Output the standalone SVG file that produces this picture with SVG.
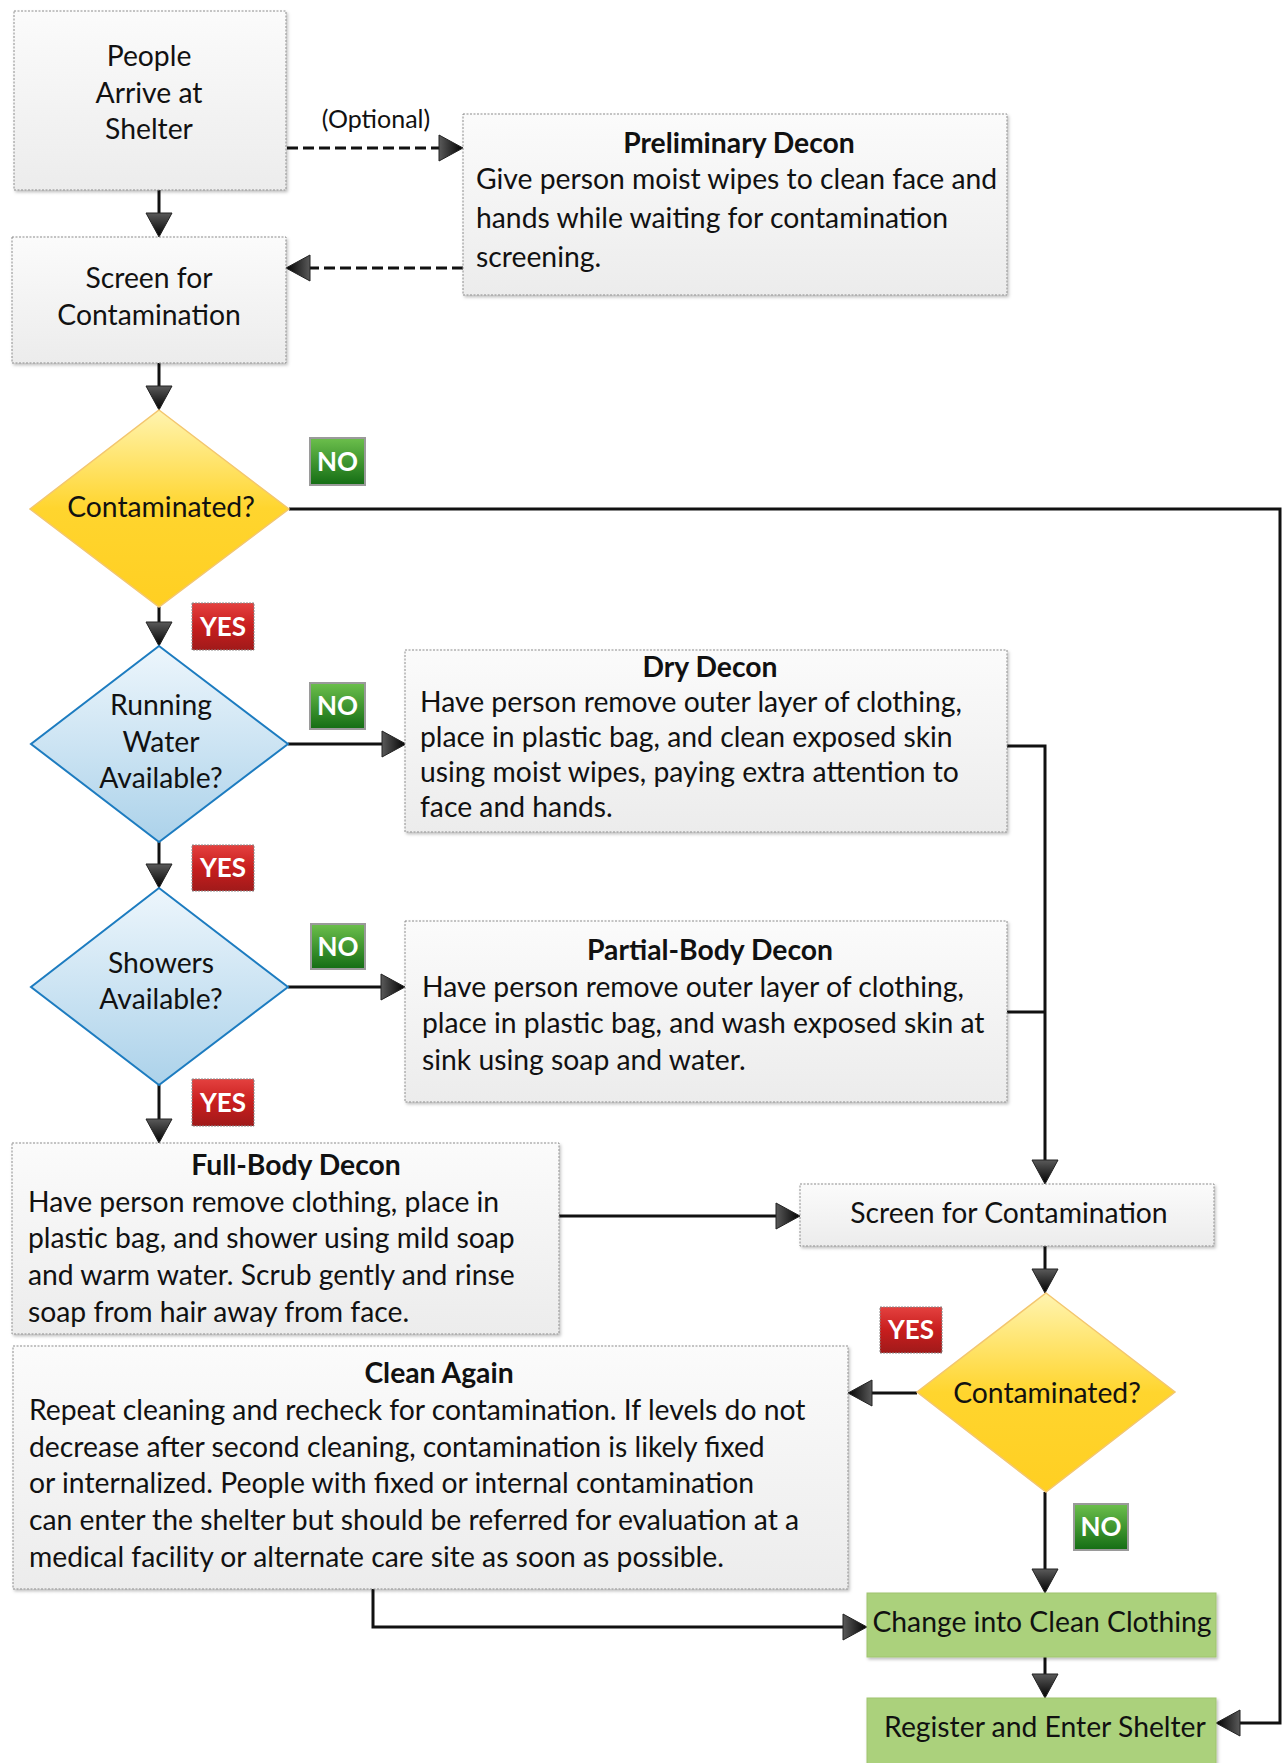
<svg xmlns="http://www.w3.org/2000/svg" width="1283" height="1763" viewBox="0 0 1283 1763">
<defs>
  <linearGradient id="boxGrad" x1="0" y1="0" x2="0" y2="1">
    <stop offset="0" stop-color="#fbfbfb"/>
    <stop offset="1" stop-color="#ececec"/>
  </linearGradient>
  <linearGradient id="yellowGrad" x1="0" y1="0" x2="0" y2="1">
    <stop offset="0" stop-color="#fff4b0"/>
    <stop offset="0.5" stop-color="#ffd52e"/>
    <stop offset="1" stop-color="#ffcf22"/>
  </linearGradient>
  <linearGradient id="blueGrad" x1="0" y1="0" x2="0" y2="1">
    <stop offset="0" stop-color="#edf6fc"/>
    <stop offset="1" stop-color="#acd2ea"/>
  </linearGradient>
  <linearGradient id="noGrad" x1="0" y1="0" x2="0" y2="1">
    <stop offset="0" stop-color="#6cbf4c"/>
    <stop offset="1" stop-color="#146d14"/>
  </linearGradient>
  <linearGradient id="yesGrad" x1="0" y1="0" x2="0" y2="1">
    <stop offset="0" stop-color="#e4413f"/>
    <stop offset="0.5" stop-color="#c81e1e"/>
    <stop offset="1" stop-color="#a01a1a"/>
  </linearGradient>
  <linearGradient id="arrowGrad" x1="0" y1="0" x2="1" y2="0">
    <stop offset="0" stop-color="#5a5a5a"/>
    <stop offset="1" stop-color="#000000"/>
  </linearGradient>
  <filter id="shadow" x="-5%" y="-5%" width="110%" height="115%">
    <feDropShadow dx="1.5" dy="2" stdDeviation="1.5" flood-color="#000" flood-opacity="0.25"/>
  </filter>
  <marker id="arrow" markerUnits="userSpaceOnUse" markerWidth="28" markerHeight="30" refX="2" refY="13" orient="auto" viewBox="-1 -1 28 30">
    <path d="M0,0 L24,13 L0,26 Z" fill="url(#arrowGrad)" stroke="#222" stroke-width="1"/>
  </marker>
</defs>
<style>
  .box { fill: url(#boxGrad); stroke: #8c8c8c; stroke-width: 1; stroke-dasharray: 2 1.5; filter: url(#shadow); }
  .green { fill: #abd17c; stroke: #9fc46f; stroke-width: 1; filter: url(#shadow); }
  .yellow { fill: url(#yellowGrad); stroke: #f3c66f; stroke-width: 1.5; }
  .blue { fill: url(#blueGrad); stroke: #1d7cc0; stroke-width: 2; }
  .no { fill: url(#noGrad); stroke: #9a9a9a; stroke-width: 2; }
  .yes { fill: url(#yesGrad); stroke: #8a8a8a; stroke-width: 1; stroke-dasharray: 2 1; }
  text { font-family: Lato, "Liberation Sans", sans-serif; fill: #111; }
  .t { font-size: 28.3px; }
  .c { text-anchor: middle; }
  .b { font-weight: bold; }
  .lbl { font-size: 26px; font-weight: bold; fill: #fff; text-anchor: middle; }
  .conn { stroke: #111; stroke-width: 3; fill: none; }
  .dash { stroke-dasharray: 11 5; }
</style>

<g id="connectors">
  <path class="conn" d="M159,190 V215" marker-end="url(#arrow)"/>
  <path class="conn" d="M159,363 V388" marker-end="url(#arrow)"/>
  <path class="conn" d="M159,607 V624" marker-end="url(#arrow)"/>
  <path class="conn" d="M159,842 V866" marker-end="url(#arrow)"/>
  <path class="conn" d="M159,1085 V1121" marker-end="url(#arrow)"/>
  <path class="conn dash" d="M287,148 H441" marker-end="url(#arrow)"/>
  <path class="conn dash" d="M463,268 H308" marker-end="url(#arrow)"/>
  <path class="conn" d="M289,509 H1280 V1723 H1238" marker-end="url(#arrow)"/>
  <path class="conn" d="M288,744 H384" marker-end="url(#arrow)"/>
  <path class="conn" d="M288,987 H383" marker-end="url(#arrow)"/>
  <path class="conn" d="M1007,746 H1045 V1162" marker-end="url(#arrow)"/>
  <path class="conn" d="M1007,1012 H1045"/>
  <path class="conn" d="M559,1216 H778" marker-end="url(#arrow)"/>
  <path class="conn" d="M1045,1246 V1271" marker-end="url(#arrow)"/>
  <path class="conn" d="M917,1393 H870" marker-end="url(#arrow)"/>
  <path class="conn" d="M1045,1492 V1571" marker-end="url(#arrow)"/>
  <path class="conn" d="M373,1589 V1627 H845" marker-end="url(#arrow)"/>
  <path class="conn" d="M1045,1657 V1676" marker-end="url(#arrow)"/>
  <text x="376" y="128" class="t c" style="font-size:25px">(Optional)</text>
</g>

<g id="people-arrive">
  <rect class="box" x="14" y="11" width="272" height="179"/>
  <text class="t c" x="149" y="66">People</text>
  <text class="t c" x="149" y="103">Arrive at</text>
  <text class="t c" x="149" y="139">Shelter</text>
</g>

<g id="screen1">
  <rect class="box" x="12" y="237" width="274" height="126"/>
  <text class="t c" x="149" y="288">Screen for</text>
  <text class="t c" x="149" y="325">Contamination</text>
</g>

<g id="preliminary-decon">
  <rect class="box" x="463" y="114" width="544" height="181"/>
  <text class="t c b" x="739" y="153">Preliminary Decon</text>
  <text class="t" x="476" y="189">Give person moist wipes to clean face and</text>
  <text class="t" x="476" y="228">hands while waiting for contamination</text>
  <text class="t" x="476" y="267">screening.</text>
</g>

<g id="contaminated1">
  <polygon class="yellow" points="159,410 289,509 159,607 30,509"/>
  <text class="t c" x="161" y="517">Contaminated?</text>
</g>

<g id="running-water">
  <polygon class="blue" points="159,646 288,744 159,842 31,744"/>
  <text class="t c" x="161" y="715">Running</text>
  <text class="t c" x="161" y="752">Water</text>
  <text class="t c" x="161" y="788">Available?</text>
</g>

<g id="dry-decon">
  <rect class="box" x="405" y="650" width="602" height="182"/>
  <text class="t c b" x="710" y="677">Dry Decon</text>
  <text class="t" x="420" y="712">Have person remove outer layer of clothing,</text>
  <text class="t" x="420" y="747">place in plastic bag, and clean exposed skin</text>
  <text class="t" x="420" y="782">using moist wipes, paying extra attention to</text>
  <text class="t" x="420" y="817">face and hands.</text>
</g>

<g id="showers">
  <polygon class="blue" points="159,888 288,987 159,1085 31,987"/>
  <text class="t c" x="161" y="973">Showers</text>
  <text class="t c" x="161" y="1009">Available?</text>
</g>

<g id="partial-body-decon">
  <rect class="box" x="405" y="921" width="602" height="181"/>
  <text class="t c b" x="710" y="960">Partial-Body Decon</text>
  <text class="t" x="422" y="997">Have person remove outer layer of clothing,</text>
  <text class="t" x="422" y="1033">place in plastic bag, and wash exposed skin at</text>
  <text class="t" x="422" y="1070">sink using soap and water.</text>
</g>

<g id="full-body-decon">
  <rect class="box" x="12" y="1143" width="547" height="191"/>
  <text class="t c b" x="296" y="1175">Full-Body Decon</text>
  <text class="t" x="28" y="1212">Have person remove clothing, place in</text>
  <text class="t" x="28" y="1248">plastic bag, and shower using mild soap</text>
  <text class="t" x="28" y="1285">and warm water. Scrub gently and rinse</text>
  <text class="t" x="28" y="1322">soap from hair away from face.</text>
</g>

<g id="screen2">
  <rect class="box" x="800" y="1184" width="414" height="62"/>
  <text class="t c" x="1009" y="1223">Screen for Contamination</text>
</g>

<g id="contaminated2">
  <polygon class="yellow" points="1046,1293 1175,1392 1046,1492 917,1392"/>
  <text class="t c" x="1047" y="1403">Contaminated?</text>
</g>

<g id="clean-again">
  <rect class="box" x="13" y="1346" width="835" height="243"/>
  <text class="t c b" x="439" y="1383">Clean Again</text>
  <text class="t" x="29" y="1420">Repeat cleaning and recheck for contamination. If levels do not</text>
  <text class="t" x="29" y="1457">decrease after second cleaning, contamination is likely fixed</text>
  <text class="t" x="29" y="1493">or internalized. People with fixed or internal contamination</text>
  <text class="t" x="29" y="1530">can enter the shelter but should be referred for evaluation at a</text>
  <text class="t" x="29" y="1567">medical facility or alternate care site as soon as possible.</text>
</g>

<g id="change-clothing">
  <rect class="green" x="867" y="1593" width="349" height="64"/>
  <text class="t c" x="1042" y="1632">Change into Clean Clothing</text>
</g>

<g id="register-enter">
  <rect class="green" x="867" y="1698" width="349" height="70"/>
  <text class="t c" x="1045" y="1737">Register and Enter Shelter</text>
</g>

<g id="label-no1"><rect class="no" x="310" y="438" width="55" height="47"/><text class="lbl" x="337.5" y="471">NO</text></g>
<g id="label-no2"><rect class="no" x="310" y="683" width="55" height="46"/><text class="lbl" x="337.5" y="715">NO</text></g>
<g id="label-no3"><rect class="no" x="311" y="924" width="54" height="45"/><text class="lbl" x="338" y="956">NO</text></g>
<g id="label-no4"><rect class="no" x="1074" y="1504" width="54" height="46"/><text class="lbl" x="1101" y="1536">NO</text></g>
<g id="label-yes1"><rect class="yes" x="192" y="603" width="62" height="47"/><text class="lbl" x="223" y="636">YES</text></g>
<g id="label-yes2"><rect class="yes" x="192" y="845" width="62" height="46"/><text class="lbl" x="223" y="877">YES</text></g>
<g id="label-yes3"><rect class="yes" x="192" y="1079" width="62" height="47"/><text class="lbl" x="223" y="1112">YES</text></g>
<g id="label-yes4"><rect class="yes" x="880" y="1307" width="62" height="46"/><text class="lbl" x="911" y="1339">YES</text></g>
</svg>
